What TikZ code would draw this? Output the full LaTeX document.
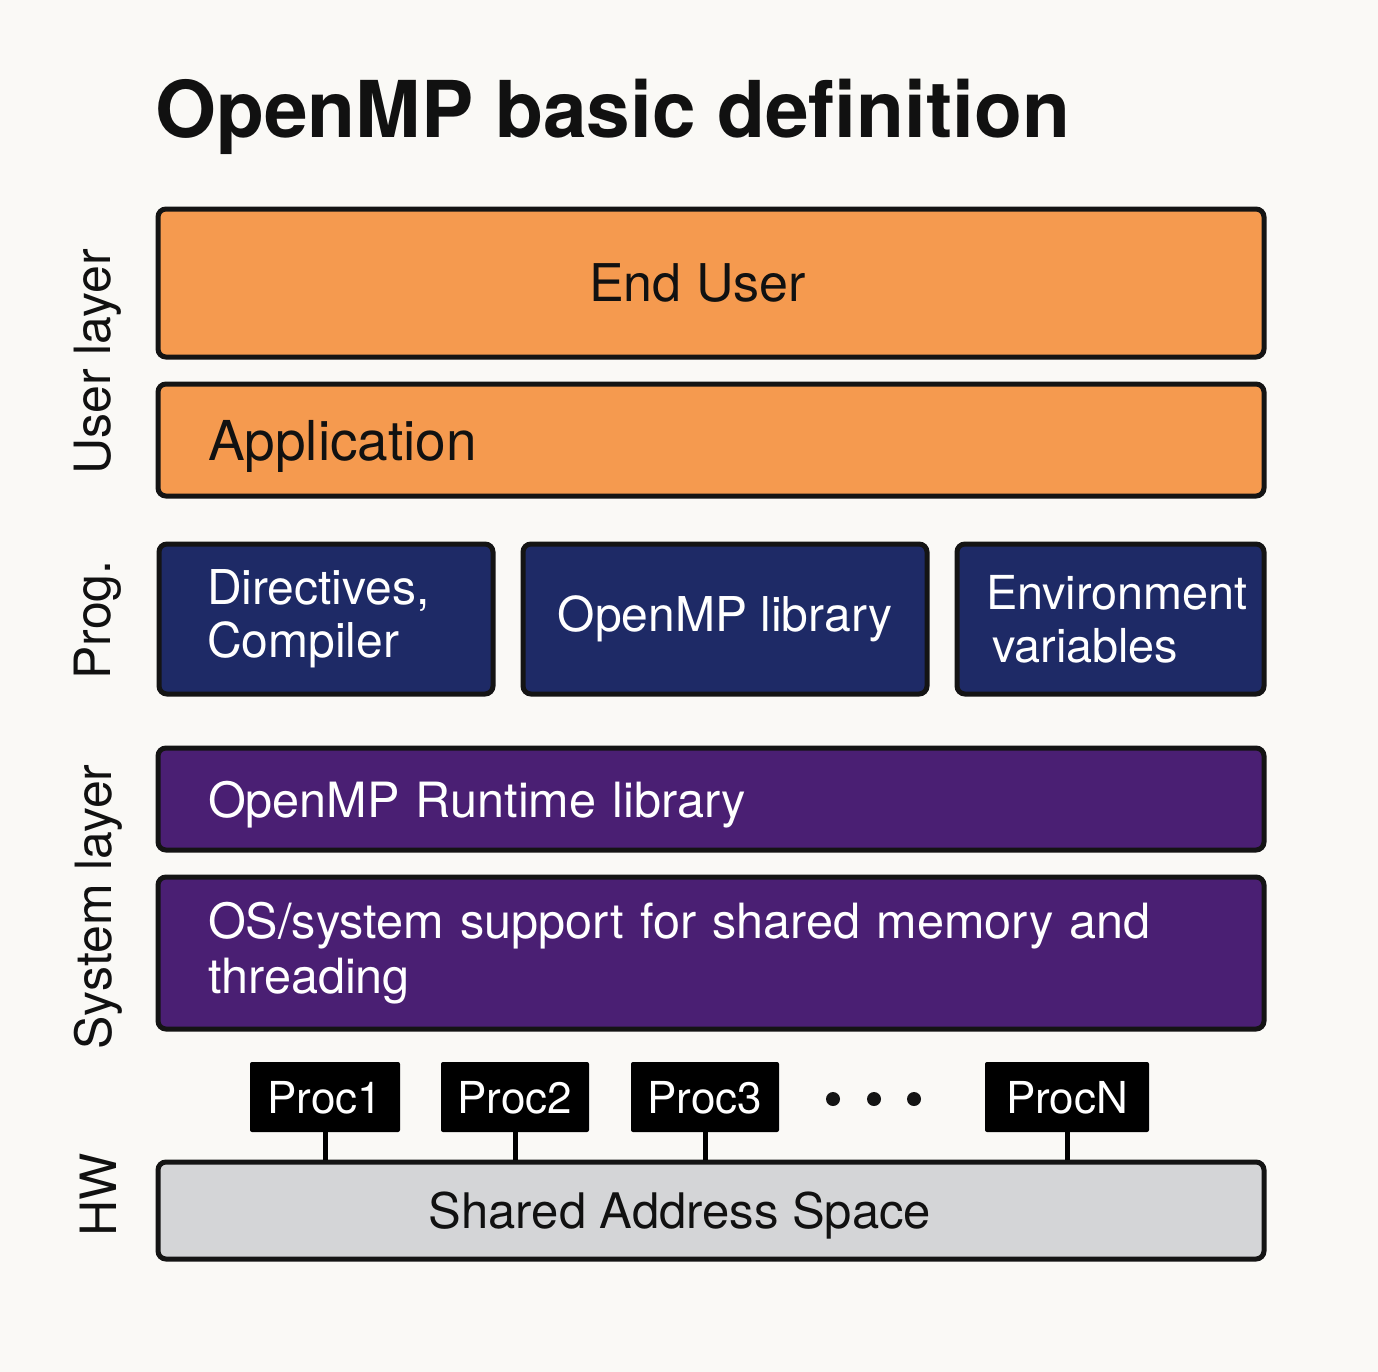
\documentclass[tikz,border=0pt]{standalone}
\usepackage{fontspec}
\setmainfont{TeX Gyre Heros}
\definecolor{bg}{HTML}{FAF9F6}
\definecolor{edge}{HTML}{141414}
\definecolor{userorange}{HTML}{F59A4F}
\definecolor{prognavy}{HTML}{1E2A66}
\definecolor{syspurple}{HTML}{4A1F73}
\definecolor{hwgray}{HTML}{D4D5D7}
\definecolor{ink}{HTML}{111111}
\begin{document}
\begin{tikzpicture}[x=0.5pt,y=-0.5pt,
  layer/.style={draw=edge, line width=2.5pt, rounded corners=4pt, inner sep=0pt,
    font=\fontsize{24.3}{27.5}\selectfont},
  userbox/.style={layer, fill=userorange, text=ink},
  progbox/.style={layer, fill=prognavy, text=white, minimum height=75pt,
    font=\fontsize{24}{26.5}\selectfont},
  sysbox/.style={layer, fill=syspurple, text=white},
  hwbox/.style={layer, fill=hwgray, text=ink, font=\fontsize{24.5}{27}\selectfont},
  wideleft/.style={minimum width=553pt, inner xsep=25pt, text width=503pt, align=left},
  procbox/.style={fill=black, text=white, inner sep=0pt, rounded corners=1pt,
    minimum height=35pt, text depth=0pt, font=\fontsize{22}{24}\selectfont},
  sidelabel/.style={rotate=90, text=ink, inner sep=0pt, font=\fontsize{25}{27}\selectfont},
  wire/.style={draw=black, line width=2.5pt}
]
% page background
\fill[bg] (0,0) rectangle (1378,1372);
\useasboundingbox (0,0) rectangle (1378,1372);

% title
\node[anchor=base west, inner sep=0pt, text=ink, font=\fontsize{39.2}{44}\selectfont\bfseries]
  (title) at (155,137) {OpenMP basic definition};

% user layer
\node[userbox, minimum width=553pt, minimum height=74pt, font=\fontsize{26}{28}\selectfont]
  (enduser) at (711,283) {End User\kern13.5pt};
\node[userbox, wideleft, minimum height=56pt, text depth=0pt,
  font=\fontsize{27.5}{30}\selectfont] (app) at (711,440) {Application};

% programming layer
\node[progbox, minimum width=167pt, inner xsep=24pt, text width=119pt, align=left]
  (directives) at (326,619) {Directives,\\Compiler};
\node[progbox, minimum width=202pt] (omplib) at (725,619) {OpenMP library};
\node[progbox, minimum width=153.5pt, inner xsep=14.5pt, text width=124.5pt, align=left,
  font=\fontsize{23.4}{26.5}\selectfont]
  (envvars) at (1110.5,619) {Environment\\\hspace*{3pt}variables};

% system layer
\node[sysbox, wideleft, minimum height=51pt, text depth=0pt] (runtime) at (711,799)
  {OpenMP Runtime library};
\node[sysbox, wideleft, minimum height=76pt] (ossupport) at (711,953)
  {OS/system support for shared memory and\\threading};

% hardware
\node[hwbox, minimum width=553pt, minimum height=48.5pt, text depth=0pt] (sas)
  at (711,1210.5) {Shared Address Space\kern31pt};
\node[procbox, minimum width=75pt] (p1) at (325,1097) {Proc1};
\node[procbox, minimum width=74pt] (p2) at (515,1097) {Proc2};
\node[procbox, minimum width=74pt] (p3) at (705,1097) {Proc3};
\node[procbox, minimum width=82pt] (pn) at (1067,1097) {ProcN};
\foreach \x in {833,874,914} \fill[edge] (\x,1099) circle (3.5pt);

\foreach \p in {p1,p2,p3,pn}
  \draw[wire] (\p.south) -- (\p.south |- sas.north);

% side labels
\node[sidelabel] (lblUser) at (98,362) {User layer};
\node[sidelabel] (lblProg) at (98,620) {Prog.};
\node[sidelabel] (lblSys) at (98,907) {System layer};
\node[sidelabel] (lblHW) at (98,1195) {HW};
\end{tikzpicture}
\end{document}
